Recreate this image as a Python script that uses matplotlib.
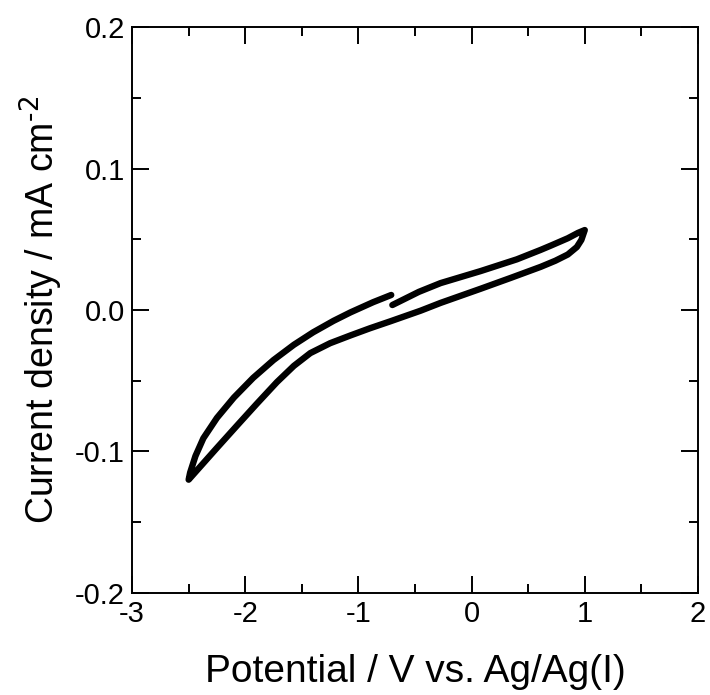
import numpy as np
import matplotlib.pyplot as plt
from matplotlib.ticker import MultipleLocator, FixedLocator, FixedFormatter

plt.rcParams['font.family'] = ['Liberation Sans', 'DejaVu Sans']
plt.rcParams['axes.unicode_minus'] = False

# cyclic voltammogram (V vs Ag/Ag(I), mA cm-2)
# upper-left branch -> tip at -2.5 V -> lower branch -> tip at 1 V -> upper-right branch
potential = [-0.71, -0.87, -1.07, -1.22, -1.40, -1.57, -1.75, -1.93, -2.10,
             -2.25, -2.37, -2.44, -2.487, -2.50,
             -2.40, -2.25, -2.07, -1.90, -1.72, -1.57, -1.425, -1.25, -1.07,
             -0.90, -0.717, -0.45, -0.274, 0.080, 0.35, 0.611, 0.74, 0.85,
             0.93, 0.97, 1.00,
             0.94, 0.85, 0.70, 0.611, 0.40, 0.080, -0.274, -0.466, -0.70]
current = [0.0106, 0.0055, -0.0017, -0.0077, -0.0158, -0.0246, -0.0354, -0.0480, -0.0619,
           -0.0763, -0.0907, -0.1033, -0.1150, -0.1200,
           -0.1110, -0.0975, -0.0815, -0.0665, -0.0510, -0.0395, -0.0305, -0.0235, -0.0180,
           -0.0130, -0.0080, -0.0005, 0.0050, 0.0150, 0.0228, 0.0305, 0.0348, 0.0392,
           0.0445, 0.0495, 0.0565,
           0.0545, 0.0507, 0.0455, 0.0425, 0.0358, 0.0275, 0.0190, 0.0128, 0.0035]

xticks = [-3, -2, -1, 0, 1, 2]
xticklabels = ['-3', '-2', '-1', '0', '1', '2']
yticks = [-0.2, -0.1, 0.0, 0.1, 0.2]
yticklabels = ['-0.2', '-0.1', '0.0', '0.1', '0.2']

fig = plt.figure(figsize=(7.1, 6.95), dpi=100)
ax = fig.add_axes([0.186, 0.147, 0.797, 0.814])

ax.plot(potential, current, color='black', lw=4.6,
        solid_capstyle='round', solid_joinstyle='round')

ax.set_xlim(-3, 2)
ax.set_ylim(-0.2, 0.2)
ax.xaxis.set_major_locator(FixedLocator(xticks))
ax.xaxis.set_major_formatter(FixedFormatter(xticklabels))
ax.yaxis.set_major_locator(FixedLocator(yticks))
ax.yaxis.set_major_formatter(FixedFormatter(yticklabels))
ax.xaxis.set_minor_locator(MultipleLocator(0.5))
ax.yaxis.set_minor_locator(MultipleLocator(0.05))

ax.tick_params(which='both', direction='in', top=True, right=True, width=1.4)
ax.tick_params(which='major', length=12, labelsize=21)
ax.tick_params(axis='x', which='major', pad=5)
ax.tick_params(axis='y', which='major', pad=5)
ax.tick_params(which='minor', length=6.5)
for s in ax.spines.values():
    s.set_linewidth(1.4)

ax.set_xlabel('Potential / V vs. Ag/Ag(I)', fontsize=28, labelpad=19)
ax.set_ylabel('Current density / mA cm$^{\\text{-2}}$', fontsize=27, labelpad=7)

fig.savefig('out.png', dpi=100)
